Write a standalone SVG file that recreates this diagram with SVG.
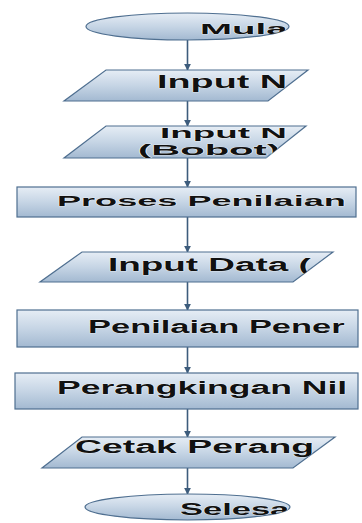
<svg xmlns="http://www.w3.org/2000/svg" width="362" height="523" viewBox="0 0 362 523">
<style>
.shape{fill:url(#g);stroke:#4f6f90;stroke-width:1.2}
.t{font-family:"Liberation Sans",Arial,sans-serif;font-weight:bold;fill:#111111;stroke:#f4f6f8;stroke-width:0.6;paint-order:stroke;stroke-linejoin:round}
.c{stroke:#3d5c7c;stroke-width:1.6;fill:none;marker-end:url(#ah)}
</style>
<defs>
<linearGradient id="g" x1="0" y1="0" x2="0" y2="1">
<stop offset="0" stop-color="#e6edf5"/>
<stop offset="0.5" stop-color="#c6d5e5"/>
<stop offset="1" stop-color="#a3b9d1"/>
</linearGradient>
<marker id="ah" viewBox="0 0 10 10" refX="9" refY="5" markerWidth="4.5" markerHeight="4.5" orient="auto" markerUnits="strokeWidth">
<path d="M0,0 L10,5 L0,10 z" fill="#3d5c7c"/>
</marker>
<clipPath id="c1"><ellipse cx="187.5" cy="26.5" rx="101.5" ry="13.5"/></clipPath>
<clipPath id="c2"><polygon points="106,70 308,70 268,101 64,101"/></clipPath>
<clipPath id="c3"><polygon points="106,126 306,126 266,158 64,158"/></clipPath>
<clipPath id="c4"><rect x="17" y="187" width="339" height="30"/></clipPath>
<clipPath id="c5"><polygon points="82,252 333,252 293,282 40,282"/></clipPath>
<clipPath id="c6"><rect x="17" y="310" width="341" height="37"/></clipPath>
<clipPath id="c7"><rect x="15" y="373" width="343" height="36"/></clipPath>
<clipPath id="c8"><polygon points="82,437 335,437 293,468 42,468"/></clipPath>
<clipPath id="c9"><ellipse cx="187.5" cy="507" rx="102.5" ry="13"/></clipPath>
</defs>
<g id="connectors">
<line class="c" x1="187.5" y1="40" x2="187.5" y2="70"/>
<line class="c" x1="187.5" y1="101" x2="187.5" y2="126"/>
<line class="c" x1="187.5" y1="158" x2="187.5" y2="187"/>
<line class="c" x1="187.5" y1="217" x2="187.5" y2="252"/>
<line class="c" x1="187.5" y1="282" x2="187.5" y2="310"/>
<line class="c" x1="187.5" y1="347" x2="187.5" y2="373"/>
<line class="c" x1="187.5" y1="409" x2="187.5" y2="437"/>
<line class="c" x1="187.5" y1="468" x2="187.5" y2="494"/>
</g>
<g id="n1">
<ellipse class="shape" cx="187.5" cy="26.5" rx="101.5" ry="13.5"/>
<g clip-path="url(#c1)"><text class="t" font-size="15.5" transform="translate(200,33.5) scale(2.48,1)">Mulai</text></g>
</g>
<g id="n2">
<polygon class="shape" points="106,70 308,70 268,101 64,101"/>
<g clip-path="url(#c2)"><text class="t" font-size="18" transform="translate(157,87.5) scale(2.1,1)">Input N</text></g>
</g>
<g id="n3">
<polygon class="shape" points="106,126 306,126 266,158 64,158"/>
<g clip-path="url(#c3)"><text class="t" font-size="14.5" transform="translate(160,137.5) scale(2.54,1)">Input N</text>
<text class="t" font-size="14.5" transform="translate(138,154.5) scale(2.76,1)">(Bobot)</text></g>
</g>
<g id="n4">
<rect class="shape" x="17" y="187" width="339" height="30"/>
<g clip-path="url(#c4)"><text class="t" font-size="15.5" transform="translate(57,205.5) scale(2.33,1)">Proses Penilaian</text></g>
</g>
<g id="n5">
<polygon class="shape" points="82,252 333,252 293,282 40,282"/>
<g clip-path="url(#c5)"><text class="t" font-size="18" transform="translate(108,271) scale(2.05,1)">Input Data (</text></g>
</g>
<g id="n6">
<rect class="shape" x="17" y="310" width="341" height="37"/>
<g clip-path="url(#c6)"><text class="t" font-size="17.5" transform="translate(88,332.5) scale(1.97,1)">Penilaian Pener</text></g>
</g>
<g id="n7">
<rect class="shape" x="15" y="373" width="343" height="36"/>
<g clip-path="url(#c7)"><text class="t" font-size="17.5" transform="translate(57,393.5) scale(2.03,1)">Perangkingan Nil</text></g>
</g>
<g id="n8">
<polygon class="shape" points="82,437 335,437 293,468 42,468"/>
<g clip-path="url(#c8)"><text class="t" font-size="18" transform="translate(75,452.5) scale(2.08,1)">Cetak Perang</text></g>
</g>
<g id="n9">
<ellipse class="shape" cx="187.5" cy="507" rx="102.5" ry="13"/>
<g clip-path="url(#c9)"><text class="t" font-size="16.5" transform="translate(180,515) scale(2.09,1)">Selesai</text></g>
</g>
</svg>
